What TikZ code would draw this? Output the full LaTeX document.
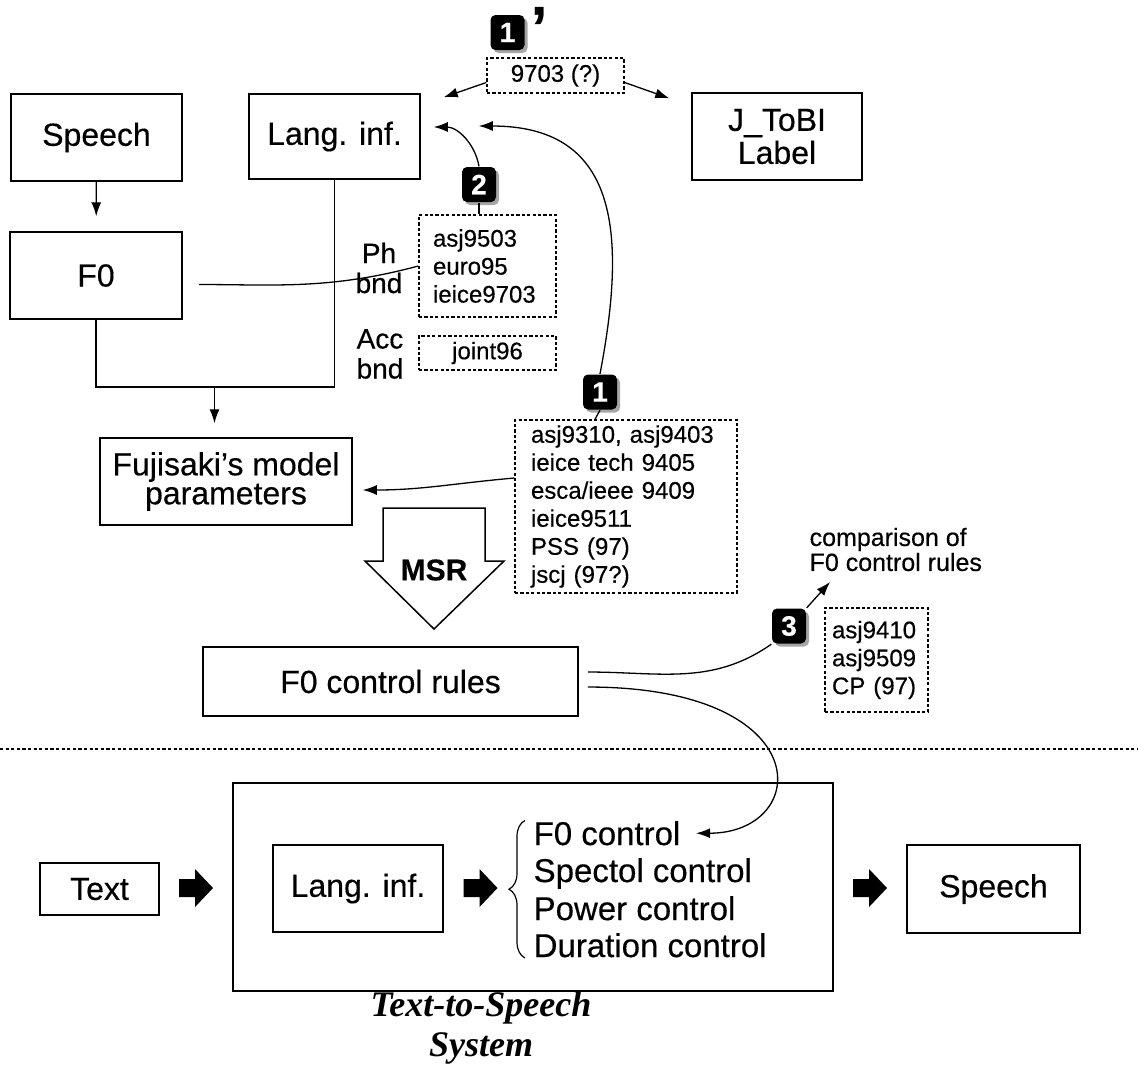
\documentclass[tikz,border=0pt]{standalone}
\usepackage{fontspec}
\setmainfont{Liberation Sans}[FakeBold=0.4]
\newfontfamily\capfont{Liberation Serif}
\usetikzlibrary{arrows.meta,calc,shadows,decorations.pathreplacing}

\newcommand{\mainsz}{\fontsize{16}{16.5}\selectfont}
\newcommand{\refsz}{\fontsize{12}{14}\selectfont}
\newcommand{\phsz}{\fontsize{14}{15}\selectfont}
\newcommand{\ctlsz}{\fontsize{16.5}{18.5}\selectfont}

\tikzset{
    blk/.style={draw, line width=0.75pt, align=center, font=\mainsz, inner sep=0pt},
    refbox/.style={draw, line width=0.7pt, dash pattern=on 1.6pt off 1.1pt,
        align=left, font=\refsz, inner ysep=0pt},
    badge/.style={fill=black, text=white, rounded corners=2.5pt, inner sep=0pt,
        minimum width=17pt, minimum height=17.5pt,
        font=\fontsize{14}{14}\selectfont\bfseries,
        drop shadow={shadow xshift=1.5pt, shadow yshift=-1.5pt, fill=black!35, opacity=1}},
    ctl/.style={anchor=base west, inner sep=0pt, font=\ctlsz},
    fatarrow/.pic={\fill (-17,-9) -- (-1,-9) -- (-1,-19) -- (17,0) -- (-1,19)
        -- (-1,9) -- (-17,9) -- cycle;}
}

\begin{document}
\begin{tikzpicture}[x=0.5pt, y=-0.5pt, line width=0.65pt,
    >={Latex[length=7pt,width=5pt]}]
  \useasboundingbox (0,0) rectangle (1138,1084);
  % Draw analysis boxes
  \node[blk, minimum width=85.5pt, minimum height=43.5pt] (speech1) at (96.5,137.5) {Speech};
  \node[blk, minimum width=85.5pt, minimum height=42.5pt] (lang1) at (334.5,136.5) {Lang. inf.};
  \node[blk, minimum width=85pt, minimum height=43.5pt] (tobi) at (777,136.5) {J\_ToBI\\Label};
  \node[blk, minimum width=86pt, minimum height=43.5pt] (f0) at (96,275.5) {F0};
  \node[blk, minimum width=126pt, minimum height=43.5pt,
        font=\fontsize{16}{14.5}\selectfont] (fuji) at (226,481.5) {Fujisaki’s model\\parameters};
  \node[blk, minimum width=187.5pt, minimum height=34.5pt] (rules) at (390.5,681.5) {F0 control rules};
  % Draw reference boxes
  \node[refbox, minimum width=68.5pt, minimum height=17.5pt, align=center] (q9703) at (555.5,75.5) {9703 (?)};
  \node[refbox, text width=54.5pt, inner xsep=7pt, minimum height=51pt] (refB) at (487.5,266)
        {asj9503\\euro95\\ieice9703};
  \node[refbox, minimum width=68.5pt, minimum height=17pt, align=center] (joint) at (487.5,353) {joint96};
  \node[refbox, text width=95pt, inner xsep=8pt, minimum height=86.5pt] (refA) at (626,506.5)
        {asj9310, asj9403\\ieice tech 9405\\esca/ieee 9409\\ieice9511\\PSS (97)\\jscj (97?)};
  \node[refbox, text width=44.5pt, inner xsep=3.5pt, minimum height=52pt] (refC) at (876.5,660)
        {asj9410\\asj9509\\CP (97)};
  \node[font=\phsz, align=center, inner sep=0pt] (ph) at (379,268) {Ph\\bnd};
  \node[font=\phsz, align=center, inner sep=0pt] (acc) at (380,354) {Acc\\bnd};
  % Draw badges
  \node[badge] (b1p) at (507.5,32.5) {1};
  \node[anchor=north west, inner sep=0pt, font=\fontsize{30}{30}\selectfont\bfseries]
        (prime) at ([shift={(2.5pt,4pt)}]b1p.north east) {’};
  \node[badge] (b2) at (479,184.5) {2};
  \node[badge] (b1) at (600,392) {1};
  \node[badge] (b3) at (789,626) {3};
  \node[font=\fontsize{12.5}{12.5}\selectfont, align=left, anchor=west, inner sep=0pt]
        (cmp) at (809,549.5) {comparison of\\F0 control rules};
  \coordinate (cmptip) at (830,582);
  % Draw connectors
  \draw[->, shorten >=7.5pt] (speech1) -- (f0);
  \coordinate (join) at (214.5,387);
  \draw (f0.south) |- (join) -| (lang1.south);
  \draw[->, shorten >=7pt] (join) -- (join |- fuji.north);
  \draw[shorten <=8pt] ([yshift=-4.5pt]f0.east) to[out=0,in=195] (refB.west);
  \draw (b2.south) -- (b2.south |- refB.north);
  \draw[->] (b2.north) to[out=100,in=0] ([shift={(6.5pt,4.75pt)}]lang1.east);
  \draw (b1.south) -- ([xshift=-2.5pt]b1.south |- refA.north);
  \draw[->] (b1.north) .. controls +(28,-146) and +(137,0) .. ([shift={(29pt,5.25pt)}]lang1.east);
  \draw[->] ([yshift=-3.5pt]q9703.west) -- ([shift={(11.5pt,-2pt)}]lang1.north east);
  \draw[->] ([yshift=-3.5pt]q9703.east) -- ([shift={(-11pt,-3pt)}]tobi.north west);
  \draw[->] ([yshift=14.25pt]refA.west) to[out=185,in=0] ([shift={(5pt,-4.25pt)}]fuji.east);
  % MSR arrow
  \draw[line width=0.75pt, fill=white] (383,508) -- (485,508) -- (485,561) -- (504,561)
        -- (434,629) -- (365,561) -- (383,561) -- cycle;
  \node[font=\fontsize{15}{15}\selectfont\bfseries] (msr) at (434,570) {MSR};
  \draw ([shift={(4.5pt,4.75pt)}]rules.east) to[out=0,in=215] (b3.south west);
  \draw[->] (b3.north east) -- (cmptip);
  % Separator
  \draw[line width=0.9pt, dash pattern=on 1.6pt off 1.2pt] (0,749) -- (1138,749);
  % Draw synthesis system
  \node[draw, line width=0.75pt, minimum width=300pt, minimum height=104pt] (tts) at (533,887) {};
  \node[blk, minimum width=59.5pt, minimum height=26pt] (text) at (99.5,889) {Text};
  \node[blk, minimum width=85pt, minimum height=43.5pt] (lang2) at (358,888.5) {Lang. inf.};
  \node[blk, minimum width=86.5pt, minimum height=44pt] (speech2) at (993.5,889) {Speech};
  \node[ctl] (ctl1) at (533,845) {F0 control};
  \node[ctl] (ctl2) at (533,882) {Spectol control};
  \node[ctl] (ctl3) at (533,920) {Power control};
  \node[ctl] (ctl4) at (533,957) {Duration control};
  \draw[decorate, decoration={brace, amplitude=8pt}, line width=0.6pt]
        ([xshift=-4pt]ctl4.south west) -- ([xshift=-4pt]ctl1.north west);
  \pic at ($(text.east)!0.5!(tts.west)$) {fatarrow};
  \pic at (480.5,888) {fatarrow};
  \pic at ($(tts.east)!0.5!(speech2.west)$) {fatarrow};
  \draw[->] ([shift={(4.5pt,-2.75pt)}]rules.east) .. controls +(233,0) and +(115,0)
        .. ([xshift=7.5pt]ctl1.east);
  \node[font=\capfont\bfseries\itshape\fontsize{18}{20}\selectfont, align=center]
        (cap) at (481,1028) {Text-to-Speech\\System};
\end{tikzpicture}
\end{document}
